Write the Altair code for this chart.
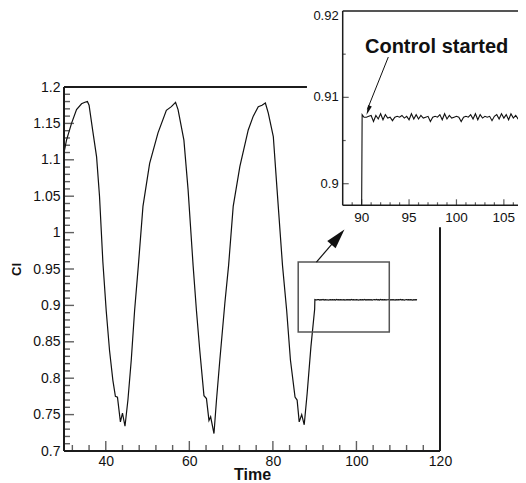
import altair as alt
import pandas as pd

FONT = "Liberation Sans"

# ---------------- main curve (before control) ----------------
MAIN_T = [30.0, 30.6, 31.8, 33.0, 34.2, 35.0, 35.6, 36.0, 36.9, 37.8, 38.5, 39.3, 40.1, 40.9,
          41.7, 42.3, 42.8, 43.5, 44.0, 44.6, 45.3, 46.1, 46.9, 47.8, 48.9, 50.5, 52.5, 54.5,
          55.7, 56.7, 57.3, 58.7, 59.7, 60.9, 61.7, 62.5, 63.5, 64.1, 64.7, 65.1, 65.9, 66.5,
          67.3, 68.5, 69.4, 70.5, 72.1, 74.1, 75.3, 76.5, 77.4, 78.2, 78.9, 80.1, 81.0, 82.3,
          83.3, 84.2, 85.3, 85.8, 86.3, 86.9, 87.5, 88.2, 89.1, 90.0]
MAIN_CL = [1.110, 1.127, 1.150, 1.169, 1.177, 1.179, 1.180, 1.175, 1.139, 1.104, 1.050, 0.960,
           0.893, 0.838, 0.797, 0.775, 0.774, 0.740, 0.752, 0.734, 0.770, 0.825, 0.893, 0.955,
           1.036, 1.095, 1.137, 1.168, 1.173, 1.179, 1.169, 1.127, 1.059, 0.955, 0.893, 0.838,
           0.776, 0.772, 0.742, 0.747, 0.724, 0.770, 0.825, 0.903, 0.955, 1.036, 1.091, 1.141,
           1.160, 1.173, 1.175, 1.178, 1.164, 1.132, 1.059, 0.955, 0.893, 0.825, 0.774, 0.770,
           0.740, 0.750, 0.736, 0.779, 0.843, 0.895]

# ---------------- controlled part ----------------
CTRL_T = [90.05, 90.25, 90.5, 90.75, 91.0, 91.25, 91.5, 91.75, 92.0, 92.25, 92.5, 92.75, 93.0,
          93.25, 93.5, 93.75, 94.0, 94.25, 94.5, 94.75, 95.0, 95.25, 95.5, 95.75, 96.0, 96.25,
          96.5, 96.75, 97.0, 97.25, 97.5, 97.75, 98.0, 98.25, 98.5, 98.75, 99.0, 99.25, 99.5,
          99.75, 100.0, 100.25, 100.5, 100.75, 101.0, 101.25, 101.5, 101.75, 102.0, 102.25,
          102.5, 102.75, 103.0, 103.25, 103.5, 103.75, 104.0, 104.25, 104.5, 104.75, 105.0,
          105.25, 105.5, 105.75, 106.0, 106.25, 106.5, 106.75, 107.0, 107.25, 107.5, 107.75,
          108.0, 108.25, 108.5, 108.75, 109.0, 109.25, 109.5, 109.75, 110.0, 110.25, 110.5,
          110.75, 111.0, 111.25, 111.5, 111.75, 112.0, 112.25, 112.5, 112.75, 113.0, 113.25,
          113.5, 113.75, 114.0, 114.25, 114.5]
CTRL_CL = [0.9080, 0.9077, 0.9077, 0.9078, 0.9079, 0.9072, 0.9079, 0.9075, 0.9081, 0.9074,
           0.9080, 0.9076, 0.9077, 0.9073, 0.9077, 0.9078, 0.9077, 0.9079, 0.9076, 0.9078,
           0.9074, 0.9081, 0.9075, 0.9080, 0.9075, 0.9079, 0.9076, 0.9077, 0.9078, 0.9072,
           0.9077, 0.9078, 0.9077, 0.9080, 0.9074, 0.9081, 0.9075, 0.9079, 0.9076, 0.9077,
           0.9078, 0.9077, 0.9072, 0.9077, 0.9078, 0.9077, 0.9080, 0.9075, 0.9081, 0.9074,
           0.9080, 0.9076, 0.9078, 0.9077, 0.9078, 0.9073, 0.9078, 0.9080, 0.9075, 0.9081,
           0.9076, 0.9080, 0.9074, 0.9081, 0.9076, 0.9079, 0.9075, 0.9078, 0.9077, 0.9076,
           0.9078, 0.9080, 0.9074, 0.9079, 0.9076, 0.9078, 0.9077, 0.9072, 0.9078, 0.9077,
           0.9080, 0.9075, 0.9081, 0.9076, 0.9078, 0.9077, 0.9073, 0.9078, 0.9079, 0.9075,
           0.9080, 0.9076, 0.9078, 0.9077, 0.9074, 0.9079, 0.9077, 0.9080, 0.9076]

# the inset line enters from its bottom edge at t = 90
INSET_ENTRY_T = [90.0]
INSET_ENTRY_CL = [0.8975]

# ---------------- axes ----------------
X_LABELS = [40, 60, 80, 100, 120]
X_MINOR = [32, 36, 44, 48, 52, 56, 64, 68, 72, 76, 84, 88, 92, 96, 104, 108, 112, 116]
Y_LABELS = [0.7, 0.75, 0.8, 0.85, 0.9, 0.95, 1.0, 1.05, 1.1, 1.15, 1.2]
Y_MINOR = [0.71, 0.72, 0.73, 0.74, 0.76, 0.77, 0.78, 0.79, 0.81, 0.82, 0.83, 0.84,
           0.86, 0.87, 0.88, 0.89, 0.91, 0.92, 0.93, 0.94, 0.96, 0.97, 0.98, 0.99,
           1.01, 1.02, 1.03, 1.04, 1.06, 1.07, 1.08, 1.09, 1.11, 1.12, 1.13, 1.14,
           1.16, 1.17, 1.18, 1.19]

INSET_X_LABELS = [90, 95, 100, 105]
INSET_X_MINOR = [89, 91, 92, 93, 94, 96, 97, 98, 99, 101, 102, 103, 104, 106, 107]
INSET_Y_VALUES = [0.9, 0.91]
INSET_Y_TEXT = ["0.9", "0.91"]
INSET_Y_TOP = [0.92]
INSET_Y_TOP_TEXT = ["0.92"]
INSET_Y_MINOR = [0.905, 0.915]

# ---------------- annotations ----------------
ZOOM_BOX = {"x": [86.06], "x2": [107.86], "y": [0.8636], "y2": [0.9595]}
BIG_ARROW = {"x": [90.42], "y": [0.9595], "x2": [96.5], "y2": [1.0]}
BIG_HEAD = {"x": [95.57], "y": [0.9939]}
SMALL_ARROW = {"x": [92.81], "y": [0.91467], "x2": [90.6], "y2": [0.9086]}
SMALL_HEAD = {"x": [90.69], "y": [0.90849]}
LABEL = {"x": [90.35], "y": [0.91513], "text": ["Control started"]}
INSET_BG = {"x": [84.23], "x2": [112.0], "y": [0.89497], "y2": [0.93]}

W, H = 376, 364
INK = "#111111"
FRAME = "#1c1c1c"

sx = alt.Scale(domain=[30, 120], nice=False, zero=False)
sy = alt.Scale(domain=[0.7, 1.2], nice=False, zero=False)
ix = alt.Scale(domain=[88, 108], range=[278.7, 468.3], nice=False, zero=False)
iy = alt.Scale(domain=[0.8975, 0.92], range=[118.3, -76.0], nice=False, zero=False)

main_df = pd.DataFrame({"t": MAIN_T + CTRL_T, "cl": MAIN_CL + CTRL_CL})

curve = alt.Chart(main_df).mark_line(color=INK, strokeWidth=1.2).encode(
    x=alt.X("t:Q", scale=sx, axis=alt.Axis(
        values=X_LABELS, title="Time", domain=False, ticks=False, tickSize=0, grid=False,
        labelFlush=False, labelOverlap=False,
        labelFont=FONT, labelFontSize=14, labelColor=INK, labelPadding=3,
        titleFont=FONT, titleFontSize=16, titleFontWeight="bold", titleColor=INK,
        titlePadding=-2)),
    y=alt.Y("cl:Q", scale=sy, axis=alt.Axis(
        values=Y_LABELS, format=".3~g", title="Cl", domain=False, ticks=False, tickSize=0,
        grid=False, labelFlush=False, labelOverlap=False,
        labelFont=FONT, labelFontSize=14, labelColor=INK, labelPadding=4,
        titleFont=FONT, titleFontSize=13, titleFontWeight="bold", titleColor=INK,
        titlePadding=9)),
    order="t:Q",
)

frame_df = pd.DataFrame({"x": [30, 30, 30, 120], "x2": [120, 120, 30, 120],
                         "y": [0.7, 1.2, 0.7, 0.7], "y2": [0.7, 1.2, 1.2, 1.2]})
frame = alt.Chart(frame_df).mark_rule(color=FRAME, strokeWidth=2).encode(
    x=alt.X("x:Q", scale=sx, axis=None), x2="x2:Q",
    y=alt.Y("y:Q", scale=sy, axis=None), y2="y2:Q")

def yticks(vals, size):
    df = pd.DataFrame({"v": vals, "x0": [30] * len(vals)})
    return alt.Chart(df).mark_tick(orient="horizontal", size=size, thickness=1.4,
                                   xOffset=size / 2, color=FRAME).encode(
        x=alt.X("x0:Q", scale=sx, axis=None), y=alt.Y("v:Q", scale=sy, axis=None))

def xticks(vals, size):
    df = pd.DataFrame({"v": vals, "y0": [0.7] * len(vals)})
    return alt.Chart(df).mark_tick(orient="vertical", size=size, thickness=1.4,
                                   yOffset=-size / 2, color=FRAME).encode(
        x=alt.X("v:Q", scale=sx, axis=None), y=alt.Y("y0:Q", scale=sy, axis=None))

box = alt.Chart(pd.DataFrame(ZOOM_BOX)).mark_rect(
    fillOpacity=0, stroke="#555555", strokeWidth=1.5).encode(
    x=alt.X("x:Q", scale=sx, axis=None), x2="x2:Q",
    y=alt.Y("y:Q", scale=sy, axis=None), y2="y2:Q")

big_arrow = alt.Chart(pd.DataFrame(BIG_ARROW)).mark_rule(color=INK, strokeWidth=1.2).encode(
    x=alt.X("x:Q", scale=sx, axis=None), x2="x2:Q",
    y=alt.Y("y:Q", scale=sy, axis=None), y2="y2:Q")
HEAD_PATH = "M0,-1L0.55,1L-0.55,1Z"
big_head = alt.Chart(pd.DataFrame(BIG_HEAD)).mark_point(
    shape=HEAD_PATH, filled=True, size=400, angle=40.7, color=INK, opacity=1).encode(
    x=alt.X("x:Q", scale=sx, axis=None), y=alt.Y("y:Q", scale=sy, axis=None))

inset_bg = alt.Chart(pd.DataFrame(INSET_BG)).mark_rect(fill="white", stroke=None).encode(
    x=alt.X("x:Q", scale=ix, axis=None), x2="x2:Q",
    y=alt.Y("y:Q", scale=iy, axis=None), y2="y2:Q")

inset_df = pd.DataFrame({"t": INSET_ENTRY_T + CTRL_T, "cl": INSET_ENTRY_CL + CTRL_CL})
inset_line = alt.Chart(inset_df).mark_line(color=INK, strokeWidth=1.1).encode(
    x=alt.X("t:Q", scale=ix, axis=None), y=alt.Y("cl:Q", scale=iy, axis=None), order="t:Q")

iframe_df = pd.DataFrame({"x": [88, 88, 88], "x2": [88, 112, 112],
                          "y": [0.8975, 0.92, 0.8975], "y2": [0.92, 0.92, 0.8975]})
inset_frame = alt.Chart(iframe_df).mark_rule(color=FRAME, strokeWidth=1.5).encode(
    x=alt.X("x:Q", scale=ix, axis=None), x2="x2:Q",
    y=alt.Y("y:Q", scale=iy, axis=None), y2="y2:Q")

def ixticks(vals, size):
    df = pd.DataFrame({"v": vals, "y0": [0.8975] * len(vals)})
    return alt.Chart(df).mark_tick(orient="vertical", size=size, thickness=1.2,
                                   yOffset=-size / 2, color=FRAME).encode(
        x=alt.X("v:Q", scale=ix, axis=None), y=alt.Y("y0:Q", scale=iy, axis=None))

def iyticks(vals, size):
    df = pd.DataFrame({"v": vals, "x0": [88] * len(vals)})
    return alt.Chart(df).mark_tick(orient="horizontal", size=size, thickness=1.2,
                                   xOffset=size / 2, color=FRAME).encode(
        x=alt.X("x0:Q", scale=ix, axis=None), y=alt.Y("v:Q", scale=iy, axis=None))

ixlab_df = pd.DataFrame({"v": INSET_X_LABELS, "y0": [0.8975] * len(INSET_X_LABELS),
                         "s": [str(v) for v in INSET_X_LABELS]})
ixlabels = alt.Chart(ixlab_df).mark_text(
    font=FONT, fontSize=13.5, color=INK, align="center", baseline="alphabetic", dy=16.5).encode(
    x=alt.X("v:Q", scale=ix, axis=None), y=alt.Y("y0:Q", scale=iy, axis=None), text="s:N")

def iylabels(vals, texts, dy):
    df = pd.DataFrame({"v": vals, "x0": [88] * len(vals), "s": texts})
    return alt.Chart(df).mark_text(
        font=FONT, fontSize=13, color=INK, align="right", baseline="middle", dx=-4,
        dy=dy).encode(
        x=alt.X("x0:Q", scale=ix, axis=None), y=alt.Y("v:Q", scale=iy, axis=None), text="s:N")

label = alt.Chart(pd.DataFrame(LABEL)).mark_text(
    font=FONT, fontSize=20, fontWeight="bold", color=INK, align="left",
    baseline="alphabetic").encode(
    x=alt.X("x:Q", scale=ix, axis=None), y=alt.Y("y:Q", scale=iy, axis=None), text="text:N")

small_arrow = alt.Chart(pd.DataFrame(SMALL_ARROW)).mark_rule(color=INK, strokeWidth=1).encode(
    x=alt.X("x:Q", scale=ix, axis=None), x2="x2:Q",
    y=alt.Y("y:Q", scale=iy, axis=None), y2="y2:Q")
small_head = alt.Chart(pd.DataFrame(SMALL_HEAD)).mark_point(
    shape="M0,-1L0.4,1L-0.4,1Z", filled=True, size=100, angle=200.6, color=INK, opacity=1).encode(
    x=alt.X("x:Q", scale=ix, axis=None), y=alt.Y("y:Q", scale=iy, axis=None))

chart = alt.layer(
    curve, frame,
    yticks(Y_LABELS, 10), yticks(Y_MINOR, 6), xticks(X_LABELS, 10), xticks(X_MINOR, 6),
    box, big_arrow, big_head,
    inset_bg, inset_line, inset_frame,
    ixticks(INSET_X_LABELS, 6), ixticks(INSET_X_MINOR, 3),
    iyticks(INSET_Y_VALUES, 6), iyticks(INSET_Y_MINOR, 3),
    ixlabels, iylabels(INSET_Y_VALUES, INSET_Y_TEXT, 0),
    iylabels(INSET_Y_TOP, INSET_Y_TOP_TEXT, 4.5),
    label, small_arrow, small_head,
).resolve_scale(x="independent", y="independent").properties(
    width=W, height=H,
    autosize=alt.AutoSizeParams(type="none"),
    padding={"left": 56, "top": 79, "right": 78, "bottom": 32},
).configure_view(stroke=None)

chart.save("out.html", embed_options={"renderer": "svg", "actions": False})
